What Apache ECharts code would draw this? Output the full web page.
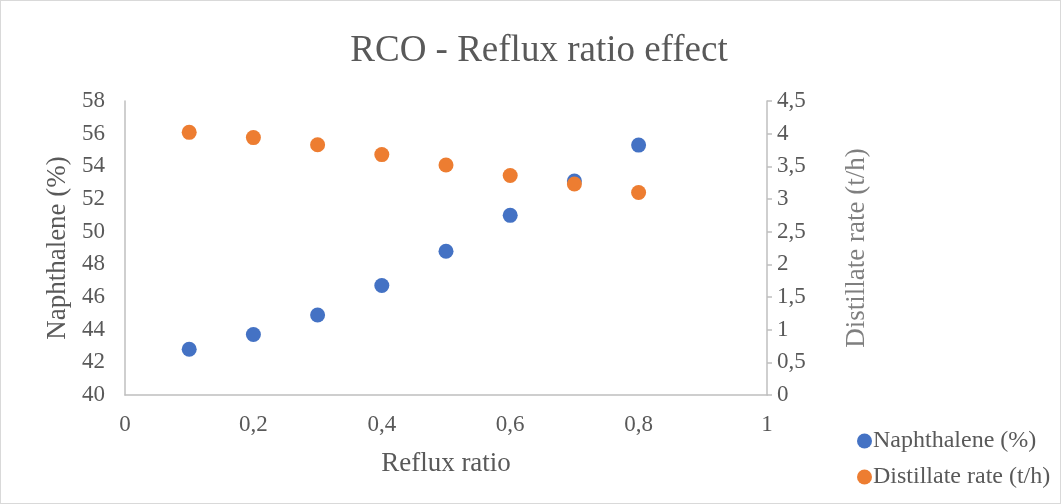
<!DOCTYPE html>
<html>
<head>
<meta charset="utf-8">
<script src="https://cdn.jsdelivr.net/npm/echarts@6/dist/echarts.min.js"></script>
<style>
  html, body { margin: 0; padding: 0; background: #fff; }
  #chart { width: 1061px; height: 504px; box-sizing: border-box; border: 1px solid #d9d9d9; }
</style>
</head>
<body>
<div id="chart"></div>
<script>
// Reflux ratio sweep for the RCO column
const refluxRatio = [0.1, 0.2, 0.3, 0.4, 0.5, 0.6, 0.7, 0.8];
const naphthalene = [42.8, 43.7, 44.9, 46.7, 48.8, 51.0, 53.1, 55.3];
const distillateRate = [4.02, 3.94, 3.83, 3.68, 3.52, 3.36, 3.23, 3.10];

const seriesNames = ['Naphthalene (%)', 'Distillate rate (t/h)'];
const titleText = 'RCO - Reflux ratio effect';
const xAxisName = 'Reflux ratio';

const textColor = '#595959';
const axisColor = '#bfbfbf';
const fontFamily = '"Liberation Serif", "Times New Roman", serif';

// decimal comma formatting for tick labels
const commaFmt = v => String(+v.toFixed(2)).replace('.', ',');

const pairs = (xs, ys) => xs.map((x, i) => [x, ys[i]]);

const chart = echarts.init(document.getElementById('chart'));
chart.setOption({
  animation: false,
  textStyle: { fontFamily: fontFamily, color: textColor },
  title: {
    text: titleText,
    top: 27,
    left: 533,
    textAlign: 'center',
    textStyle: { fontFamily: fontFamily, fontSize: 37, fontWeight: 'normal', color: textColor }
  },
  grid: { left: 124, right: 293, top: 100, bottom: 108 },
  legend: {
    orient: 'vertical',
    left: 851,
    top: 423,
    itemGap: 12,
    itemWidth: 15,
    itemHeight: 15,
    icon: 'circle',
    textStyle: { fontFamily: fontFamily, fontSize: 24, color: textColor, padding: [0, 0, 0, -4] },
    data: seriesNames
  },
  xAxis: {
    type: 'value',
    min: 0,
    max: 1,
    interval: 0.2,
    name: xAxisName,
    nameLocation: 'middle',
    nameGap: 55,
    nameTextStyle: { fontFamily: fontFamily, fontSize: 27, color: textColor },
    axisLine: { show: true, lineStyle: { color: axisColor, width: 1.5 } },
    axisTick: { show: false },
    splitLine: { show: false },
    axisLabel: { fontFamily: fontFamily, fontSize: 23, color: textColor, margin: 18, formatter: commaFmt }
  },
  yAxis: [
    {
      type: 'value',
      min: 40,
      max: 58,
      interval: 2,
      name: seriesNames[0],
      nameLocation: 'middle',
      nameGap: 50,
      nameRotate: 90,
      nameTextStyle: { fontFamily: fontFamily, fontSize: 27, color: textColor },
      axisLine: { show: true, lineStyle: { color: axisColor, width: 1.5 } },
      axisTick: { show: false },
      splitLine: { show: false },
      axisLabel: { fontFamily: fontFamily, fontSize: 23, color: textColor, margin: 20 }
    },
    {
      type: 'value',
      min: 0,
      max: 4.5,
      interval: 0.5,
      position: 'right',
      name: seriesNames[1],
      nameLocation: 'middle',
      nameGap: 76,
      nameRotate: 90,
      nameTextStyle: { fontFamily: fontFamily, fontSize: 27, color: '#7f7f7f' },
      axisLine: { show: true, lineStyle: { color: axisColor, width: 1.5 } },
      axisTick: { show: true, length: 5, lineStyle: { color: axisColor, width: 1.5 } },
      splitLine: { show: false },
      axisLabel: { fontFamily: fontFamily, fontSize: 23, color: textColor, margin: 10, formatter: commaFmt }
    }
  ],
  series: [
    {
      name: seriesNames[0],
      type: 'scatter',
      yAxisIndex: 0,
      symbol: 'circle',
      symbolSize: 15,
      itemStyle: { color: '#4472C4', opacity: 1 },
      data: pairs(refluxRatio, naphthalene)
    },
    {
      name: seriesNames[1],
      type: 'scatter',
      yAxisIndex: 1,
      symbol: 'circle',
      symbolSize: 15,
      itemStyle: { color: '#ED7D31', opacity: 1 },
      data: pairs(refluxRatio, distillateRate)
    }
  ]
});
</script>
</body>
</html>
